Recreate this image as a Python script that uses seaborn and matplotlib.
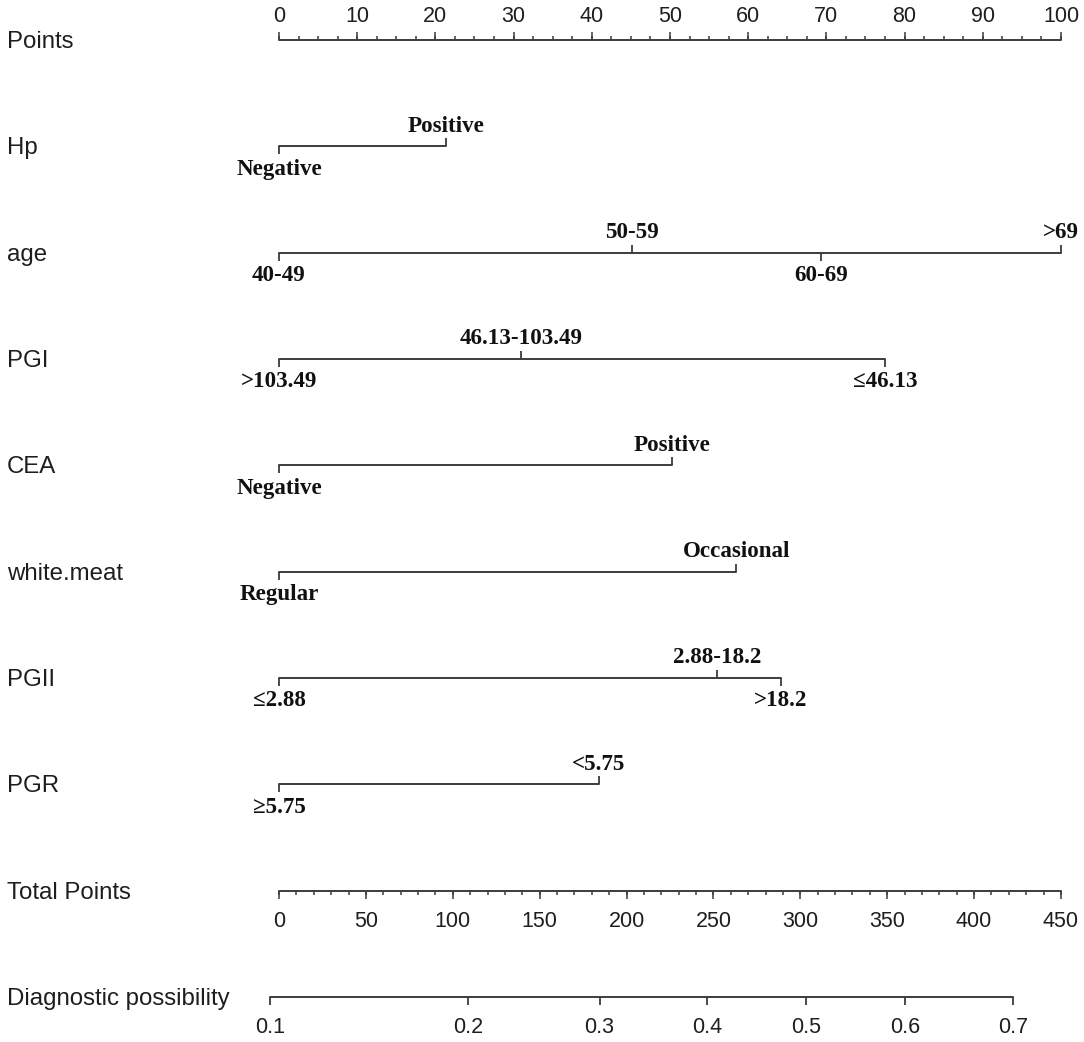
import numpy as np
import pandas as pd
import matplotlib
matplotlib.use("Agg")
import matplotlib.pyplot as plt
import seaborn as sns

# ---- values ----
variables = ["Hp", "age", "PGI", "CEA", "white.meat", "PGII", "PGR"]
levels = [
    ["Negative", "Positive"],
    ["40-49", "50-59", "60-69", ">69"],
    [">103.49", "46.13-103.49", "≤46.13"],
    ["Negative", "Positive"],
    ["Regular", "Occasional"],
    ["≤2.88", "2.88-18.2", ">18.2"],
    ["≥5.75", "<5.75"],
]
level_points = [
    [0, 21.4],
    [0, 45.1, 69.3, 100],
    [0, 31.0, 77.5],
    [0, 50.3],
    [0, 58.5],
    [0, 56.0, 64.2],
    [0, 40.9],
]
points_ticks = list(range(0, 101, 10))
total_ticks = list(range(0, 451, 50))
total_max = 450
prob_ticks = [0.1, 0.2, 0.3, 0.4, 0.5, 0.6, 0.7]
lp_intercept = -2.160   # linear predictor = intercept + slope * total points
lp_slope = 0.007117

sns.set_theme(style="white")
sans = ["Liberation Sans", "DejaVu Sans"]
serif = ["Liberation Serif", "DejaVu Serif"]
line_col = "#3c3c3c"

fig = plt.figure(figsize=(10.84, 10.42), dpi=100)
ax = fig.add_axes([0, 0, 1, 1])

# pixel geometry of the original layout
px_x = 100 / 782          # points per pixel
row_gap = 106.33          # pixels between rows
px_y = 1 / row_gap

n_rows = len(variables) + 3
row_total = n_rows - 2
row_diag = n_rows - 1


def tp_to_x(tp):
    return np.asarray(tp, dtype=float) * 100 / total_max


def prob_to_x(p):
    p = np.asarray(p, dtype=float)
    return tp_to_x((np.log(p / (1 - p)) - lp_intercept) / lp_slope)


# one long table of segment end points, drawn with seaborn
seg = [("Points", 0, 0.0), ("Points", 0, 100.0)]
for i, (name, pts) in enumerate(zip(variables, level_points)):
    seg += [(name, i + 1, min(pts)), (name, i + 1, max(pts))]
seg += [("Total Points", row_total, float(tp_to_x(0))),
        ("Total Points", row_total, float(tp_to_x(total_max)))]
seg += [("Diagnostic possibility", row_diag, float(prob_to_x(prob_ticks[0]))),
        ("Diagnostic possibility", row_diag, float(prob_to_x(prob_ticks[-1])))]
df = pd.DataFrame(seg, columns=["variable", "row", "x"])
sns.lineplot(data=df, x="x", y="row", units="variable", estimator=None,
             color=line_col, lw=1.4, ax=ax, legend=False, sort=True)
ax.set_xlim(-279 * px_x, (1084 - 279) * px_x)
ax.set_ylim((1042 - 40) / row_gap, -40 / row_gap)
ax.axis("off")

row_names = ["Points"] + variables + ["Total Points", "Diagnostic possibility"]
for r, name in enumerate(row_names):
    ax.text(7 / 1084, r + 2 * px_y, name, transform=ax.get_yaxis_transform(),
            ha="left", va="center", fontsize=17.3, family=sans, color="#1e1e1e")

# Points scale (ticks up, labels above)
minor = np.arange(0, 100.01, 2.5)
ax.vlines(minor, 0, -4 * px_y, color=line_col, lw=1.1)
ax.vlines(points_ticks, 0, -8 * px_y, color=line_col, lw=1.1)
for t in points_ticks:
    ax.text(t, -24 * px_y, str(t), ha="center", va="center",
            fontsize=15.5, family=sans, color="#1e1e1e")

# predictor rows: labels alternate below / above
for i, (labs, pts) in enumerate(zip(levels, level_points)):
    r = i + 1
    for j, (lab, p) in enumerate(zip(labs, pts)):
        below = j % 2 == 0
        sgn = 1 if below else -1
        ax.vlines(p, r, r + sgn * 8 * px_y, color=line_col, lw=1.3)
        ax.text(p, r + sgn * (23 if below else 20) * px_y, lab,
                ha="center", va="center", fontsize=16.6, fontweight="bold",
                family=serif, color="#111111")

# Total Points scale (ticks down, labels below)
tminor = tp_to_x(np.arange(0, total_max + 0.1, 10))
ax.vlines(tminor, row_total, row_total + 4 * px_y, color=line_col, lw=1.1)
ax.vlines(tp_to_x(total_ticks), row_total, row_total + 8 * px_y, color=line_col, lw=1.1)
for t in total_ticks:
    ax.text(float(tp_to_x(t)), row_total + 31 * px_y, str(t), ha="center", va="center",
            fontsize=15.5, family=sans, color="#1e1e1e")

# Diagnostic possibility scale
ax.vlines(prob_to_x(prob_ticks), row_diag, row_diag + 8 * px_y, color=line_col, lw=1.3)
for p in prob_ticks:
    ax.text(float(prob_to_x(p)), row_diag + 31 * px_y, f"{p:.1f}", ha="center",
            va="center", fontsize=15.5, family=sans, color="#1e1e1e")

fig.savefig("out.png", dpi=100, facecolor="white")
